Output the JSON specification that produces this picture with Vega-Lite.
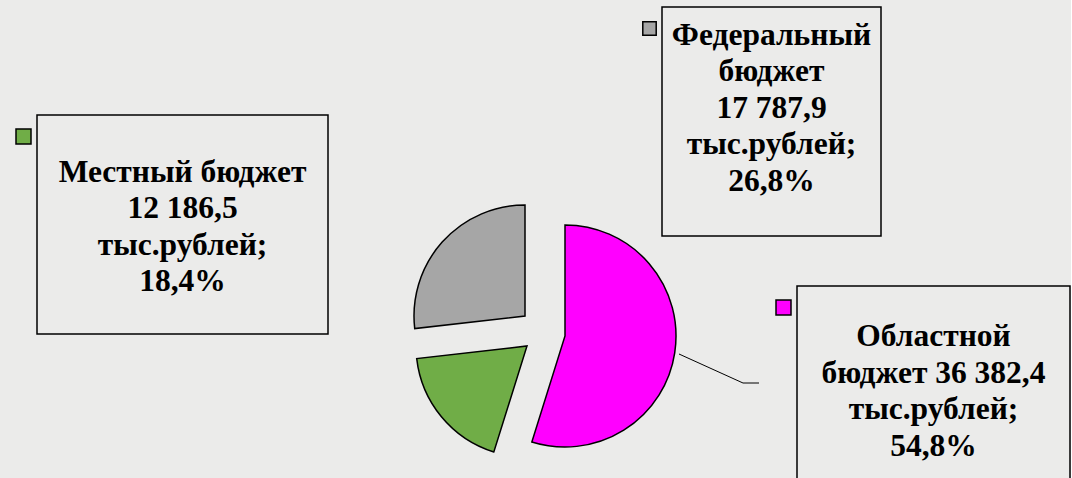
{
  "$schema": "https://vega.github.io/schema/vega-lite/v6.json",
  "background": "#ebebea",
  "padding": 0,
  "spacing": -100,
  "config": {"view": {"stroke": null}, "concat": {"spacing": 0}},
  "resolve": {"scale": {"color": "independent"}, "legend": {"color": "independent"}},
  "datasets": {
    "budget": [
      {"name": "Областной бюджет", "value": 36382.4, "order": 1, "label": ["Областной", "бюджет 36 382,4", "тыс.рублей;", "54,8%"]},
      {"name": "Местный бюджет", "value": 12186.5, "order": 2, "label": ["Местный бюджет", "12 186,5", "тыс.рублей;", " 18,4%"]},
      {"name": "Федеральный бюджет", "value": 17787.9, "order": 3, "label": ["Федеральный", "бюджет", "17 787,9", "тыс.рублей;", "26,8%"]}
    ]
  },
  "hconcat": [
    {
      "spacing": -100,
      "resolve": {"scale": {"color": "independent"}, "legend": {"color": "independent"}},
      "vconcat": [
        {"width": 407, "height": 115, "data": {"values": []}, "mark": "point"},
        {
          "spacing": 0,
          "resolve": {"scale": {"color": "independent"}, "legend": {"color": "independent"}},
          "hconcat": [
            {"width": 14, "height": 10, "data": {"values": []}, "mark": "point"},
            {
              "width": 291, "height": 219,
              "view": {"stroke": "black", "strokeWidth": 1.5},
              "data": {"name": "budget"},
              "transform": [{"filter": "datum.name === 'Местный бюджет'"}],
              "layer": [
                {"mark": {"type": "text", "font": "Liberation Serif", "fontWeight": "bold", "fontSize": 31.5, "lineHeight": 36.5, "align": "center", "baseline": "middle", "color": "black", "dy": -52},
                 "encoding": {"text": {"field": "label", "type": "nominal"}}},
                {"mark": {"type": "text", "text": ""},
                 "encoding": {"color": {"field": "name", "type": "nominal",
                   "scale": {"domain": ["Областной бюджет", "Местный бюджет", "Федеральный бюджет"], "range": ["#ff00ff", "#70ad47", "#a6a6a6"]},
                   "legend": {"orient": "none", "legendX": -22, "legendY": 13, "title": null, "labelExpr": "''", "symbolType": "square", "symbolSize": 225, "symbolStrokeColor": "black", "symbolStrokeWidth": 1.5, "padding": 0, "labelOffset": 0, "values": ["Местный бюджет"]}}}}
              ]
            }
          ]
        }
      ]
    },
    {
      "spacing": -100,
      "resolve": {"scale": {"color": "independent"}, "legend": {"color": "independent"}},
      "vconcat": [
        {"width": 10, "height": 7, "data": {"values": []}, "mark": "point"},
        {
          "spacing": 0,
          "resolve": {"scale": {"color": "independent"}, "legend": {"color": "independent"}},
          "hconcat": [
            {"width": 234, "height": 10, "data": {"values": []}, "mark": "point"},
            {
              "width": 219, "height": 229,
              "view": {"stroke": "black", "strokeWidth": 1.5},
              "data": {"name": "budget"},
              "transform": [{"filter": "datum.name === 'Федеральный бюджет'"}],
              "layer": [
                {"mark": {"type": "text", "font": "Liberation Serif", "fontWeight": "bold", "fontSize": 31.5, "lineHeight": 36.5, "align": "center", "baseline": "middle", "color": "black", "dy": -86},
                 "encoding": {"text": {"field": "label", "type": "nominal"}}},
                {"mark": {"type": "text", "text": ""},
                 "encoding": {"color": {"field": "name", "type": "nominal",
                   "scale": {"domain": ["Областной бюджет", "Местный бюджет", "Федеральный бюджет"], "range": ["#ff00ff", "#70ad47", "#a6a6a6"]},
                   "legend": {"orient": "none", "legendX": -20, "legendY": 14, "title": null, "labelExpr": "''", "symbolType": "square", "symbolSize": 180, "symbolStrokeColor": "black", "symbolStrokeWidth": 1.5, "padding": 0, "labelOffset": 0, "values": ["Федеральный бюджет"]}}}}
              ]
            }
          ]
        },
        {
          "spacing": -100,
          "resolve": {"scale": {"color": "independent"}, "legend": {"color": "independent"}},
          "hconcat": [
            {
              "width": 270, "height": 194,
              "data": {"name": "budget"},
              "transform": [{"stack": "value", "groupby": [], "sort": [{"field": "order"}], "as": ["v0", "v1"]}],
              "encoding": {
                "theta": {"field": "v1", "type": "quantitative", "scale": {"nice": false, "zero": true}},
                "theta2": {"field": "v0"},
                "color": {"field": "name", "type": "nominal",
                  "scale": {"domain": ["Областной бюджет", "Местный бюджет", "Федеральный бюджет"], "range": ["#ff00ff", "#70ad47", "#a6a6a6"]},
                  "legend": null}
              },
              "layer": [
                {"transform": [{"filter": "datum.name === 'Областной бюджет'"}],
                 "mark": {"type": "arc", "outerRadius": 111, "stroke": "black", "strokeWidth": 1.5, "xOffset": 23, "yOffset": 2}},
                {"transform": [{"filter": "datum.name === 'Местный бюджет'"}],
                 "mark": {"type": "arc", "outerRadius": 111, "stroke": "black", "strokeWidth": 1.5, "xOffset": -15, "yOffset": 12}},
                {"transform": [{"filter": "datum.name === 'Федеральный бюджет'"}],
                 "mark": {"type": "arc", "outerRadius": 111, "stroke": "black", "strokeWidth": 1.5, "xOffset": -17, "yOffset": -18}}
              ]
            },
            {
              "spacing": -100,
              "vconcat": [
                {"width": 79, "height": 117, "data": {"values": []}, "mark": "point"},
                {
                  "spacing": -100,
                  "hconcat": [
                    {"width": 64, "height": 29, "data": {"values": [{}]},
                     "mark": {"type": "rule", "color": "black", "strokeWidth": 1},
                     "encoding": {"x": {"value": 0}, "x2": {"value": "width"}, "y": {"value": 0}, "y2": {"value": "height"}}},
                    {"width": 15, "height": 29, "data": {"values": [{}]},
                     "mark": {"type": "rule", "color": "black", "strokeWidth": 1},
                     "encoding": {"x": {"value": -1}, "x2": {"value": "width"}, "y": {"value": "height"}, "y2": {"value": "height"}}}
                  ]
                }
              ]
            },
            {
              "spacing": -100,
              "resolve": {"scale": {"color": "independent"}, "legend": {"color": "independent"}},
              "vconcat": [
                {"width": 10, "height": 49, "data": {"values": []}, "mark": "point"},
                {
                  "spacing": 0,
                  "resolve": {"scale": {"color": "independent"}, "legend": {"color": "independent"}},
                  "hconcat": [
                    {"width": 14, "height": 10, "data": {"values": []}, "mark": "point"},
                    {
                      "width": 273, "height": 200,
                      "view": {"stroke": "black", "strokeWidth": 1.5},
                      "data": {"name": "budget"},
                      "transform": [{"filter": "datum.name === 'Областной бюджет'"}],
                      "layer": [
                        {"mark": {"type": "text", "font": "Liberation Serif", "fontWeight": "bold", "fontSize": 31.5, "lineHeight": 36.5, "align": "center", "baseline": "middle", "color": "black", "dy": -49},
                         "encoding": {"text": {"field": "label", "type": "nominal"}}},
                        {"mark": {"type": "text", "text": ""},
                         "encoding": {"color": {"field": "name", "type": "nominal",
                           "scale": {"domain": ["Областной бюджет", "Местный бюджет", "Федеральный бюджет"], "range": ["#ff00ff", "#70ad47", "#a6a6a6"]},
                           "legend": {"orient": "none", "legendX": -22, "legendY": 13, "title": null, "labelExpr": "''", "symbolType": "square", "symbolSize": 225, "symbolStrokeColor": "black", "symbolStrokeWidth": 1.5, "padding": 0, "labelOffset": 0, "values": ["Областной бюджет"]}}}}
                      ]
                    }
                  ]
                }
              ]
            }
          ]
        }
      ]
    }
  ]
}
